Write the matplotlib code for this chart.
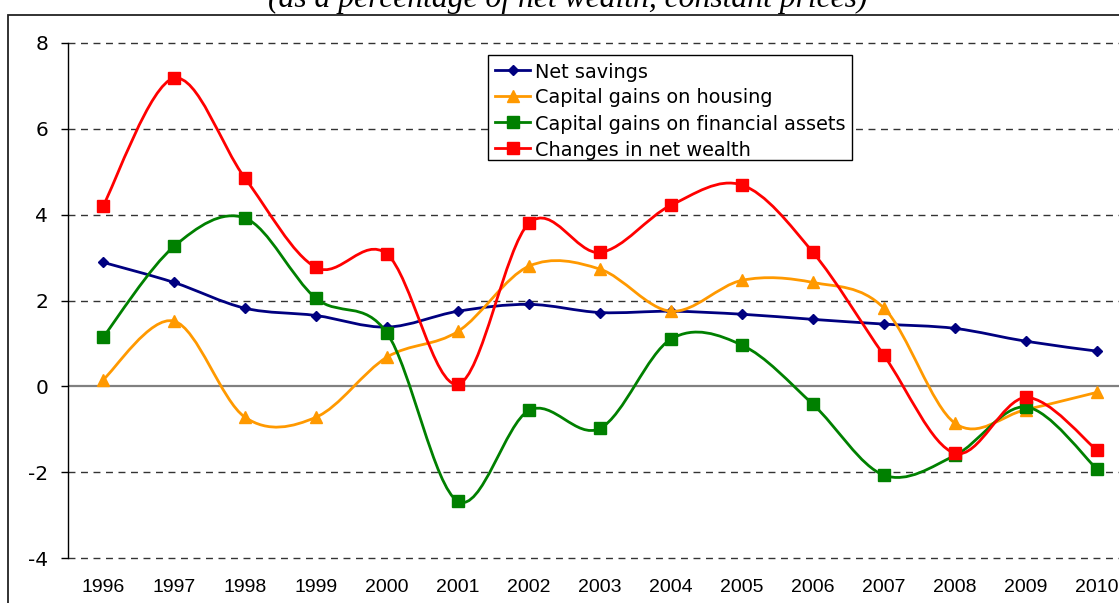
import matplotlib
matplotlib.use("Agg")
import matplotlib.pyplot as plt
from matplotlib.path import Path
from matplotlib.patches import PathPatch, Rectangle
from matplotlib.lines import Line2D
import numpy as np

years = ["1996", "1997", "1998", "1999", "2000", "2001", "2002", "2003",
         "2004", "2005", "2006", "2007", "2008", "2009", "2010"]
net_savings = [2.89, 2.42, 1.82, 1.65, 1.38, 1.75, 1.91, 1.72, 1.75, 1.68, 1.56, 1.45, 1.35, 1.05, 0.82]
housing = [0.15, 1.52, -0.72, -0.72, 0.68, 1.28, 2.80, 2.73, 1.75, 2.47, 2.42, 1.82, -0.86, -0.54, -0.14]
financial = [1.14, 3.26, 3.92, 2.05, 1.24, -2.68, -0.56, -0.98, 1.10, 0.96, -0.42, -2.07, -1.61, -0.48, -1.93]
net_wealth = [4.20, 7.18, 4.85, 2.77, 3.08, 0.05, 3.80, 3.12, 4.22, 4.69, 3.12, 0.72, -1.56, -0.26, -1.49]

series = [
    ("Net savings", net_savings, "#000080", "D", 5.4),
    ("Capital gains on housing", housing, "#FF9900", "^", 9.0),
    ("Capital gains on financial assets", financial, "#008000", "s", 8.2),
    ("Changes in net wealth", net_wealth, "#FF0000", "s", 8.2),
]
title = "(as a percentage of net wealth, constant prices)"

W, H = 1119, 603
fig = plt.figure(figsize=(W / 100, H / 100), dpi=100)


def fx(x):
    return x / W


def fy(y):
    return 1 - y / H


# chart frame
fig.add_artist(Rectangle((fx(8), fy(800)), fx(1400), fy(15) - fy(800),
                         transform=fig.transFigure, fill=False,
                         edgecolor="#222222", linewidth=1.3, zorder=0))

fig.text(fx(568), fy(6.5), title, ha="center", va="baseline",
         family="Liberation Serif", style="italic", fontsize=22.8)

left, right, top, bottom = 67.5, 1132.5, 43, 558
ax = fig.add_axes([fx(left), fy(bottom), fx(right) - fx(left), fy(top) - fy(bottom)])
ax.set_facecolor("none")
x = np.arange(len(years))
ax.set_xlim(-0.5, len(years) - 0.5)
ax.set_ylim(-4, 8)
ax.set_yticks(np.arange(-4, 9, 2))
ax.set_yticklabels([str(v) for v in range(-4, 9, 2)], family="DejaVu Sans", fontsize=14.5)
ax.set_xticks(x)
ax.set_xticklabels(years, family="Liberation Sans", fontsize=14)
ax.tick_params(axis="x", length=0, pad=15)
ax.tick_params(axis="y", length=5, width=1, direction="out", pad=9, color="black")
for s in ["top", "right", "bottom"]:
    ax.spines[s].set_visible(False)
ax.spines["left"].set_color("black")
ax.spines["left"].set_linewidth(1)
for v in [-4, -2, 2, 4, 6, 8]:
    ax.axhline(v, color="#333333", linewidth=1, linestyle=(0, (5, 4)), zorder=1,
               clip_on=False)
ax.axhline(0, color="#808080", linewidth=1.6, zorder=1.5)


def smooth_path(xs, ys):
    pts = np.column_stack([xs, ys]).astype(float)
    n = len(pts)
    verts = [pts[0]]
    codes = [Path.MOVETO]
    for i in range(n - 1):
        p0 = pts[i - 1] if i > 0 else pts[i]
        p1 = pts[i]
        p2 = pts[i + 1]
        p3 = pts[i + 2] if i + 2 < n else pts[i + 1]
        c1 = p1 + (p2 - p0) / 6.0
        c2 = p2 - (p3 - p1) / 6.0
        verts += [c1, c2, p2]
        codes += [Path.CURVE4] * 3
    return Path(verts, codes)


for k, (name, vals, col, mk, ms) in enumerate(series):
    z = 3 + k
    ax.add_patch(PathPatch(smooth_path(x, vals), fill=False, edgecolor=col,
                           linewidth=2.0, zorder=z, clip_on=False,
                           capstyle="round", joinstyle="round"))
    ax.plot(x, vals, linestyle="none", marker=mk, markersize=ms, color=col,
            markeredgecolor=col, zorder=z + 0.5, clip_on=False)

# legend
fig.add_artist(Rectangle((fx(488), fy(160)), fx(852) - fx(488), fy(55) - fy(160),
                         transform=fig.transFigure, facecolor="white",
                         edgecolor="black", linewidth=1, zorder=10))
rows = [70, 96, 122, 148]
for (name, vals, col, mk, ms), ry in zip(series, rows):
    fig.add_artist(Line2D([fx(495), fx(530)], [fy(ry), fy(ry)], transform=fig.transFigure,
                          color=col, linewidth=2.0, zorder=11))
    fig.add_artist(Line2D([fx(512.5)], [fy(ry)], transform=fig.transFigure,
                          marker=mk, markersize=ms, color=col, linestyle="none", zorder=12))
    fig.text(fx(535), fy(ry), name, ha="left", va="center_baseline",
             family="DejaVu Sans", fontsize=13.9, zorder=12)

fig.savefig("out.png", dpi=100)
